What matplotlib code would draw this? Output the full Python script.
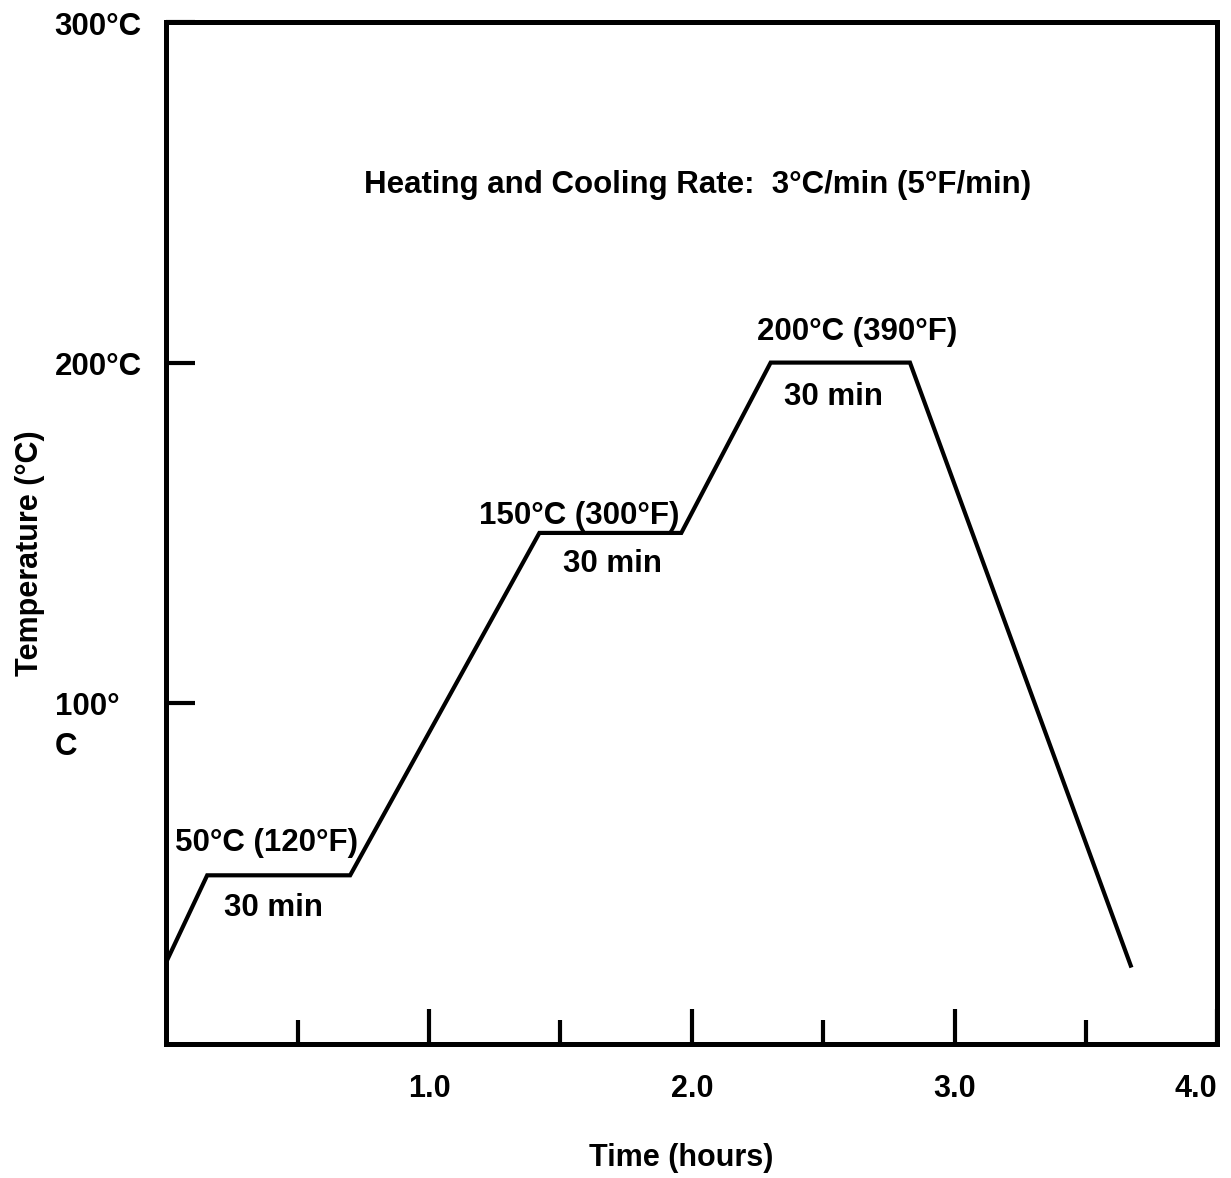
import matplotlib
matplotlib.use('Agg')
import matplotlib.pyplot as plt
from matplotlib.transforms import blended_transform_factory, offset_copy

plt.rcParams['font.family'] = ['Liberation Sans', 'DejaVu Sans']
plt.rcParams['font.weight'] = 'bold'

# cure cycle: time (hours) vs temperature (°C)
time_h = [0.0, 0.156, 0.70, 1.42, 1.96, 2.30, 2.83, 3.67]
temp_c = [24, 49.5, 49.5, 150, 150, 200, 200, 23]

x_major = [1.0, 2.0, 3.0, 4.0]
x_labels = ['1.0', '2.0', '3.0', '4.0']
x_minor = [0.5, 1.5, 2.5, 3.5]
y_ticks = [100, 200, 300]
y_labels = ['100°\nC', '200°C', '300°C']

hold_labels = ['50°C (120°F)', '150°C (300°F)', '200°C (390°F)']
hold_label_xy = [(0.38, 59), (1.57, 155), (2.63, 209)]
hold_time_xy = [(0.41, 40), (1.70, 141), (2.54, 190)]

fig = plt.figure(figsize=(12.31, 11.78), dpi=100)
ax = fig.add_axes([0.135, 0.1138, 0.854, 0.8676])

ax.plot(time_h, temp_c, color='black', lw=3, solid_joinstyle='miter')
ax.set_xlim(0, 4.0)
ax.set_ylim(0, 300)

for s in ax.spines.values():
    s.set_linewidth(3.6)

ax.set_xticks(x_major)
ax.set_xticklabels(x_labels, fontsize=22, fontweight='bold')
ax.get_xticklabels()[-1].set_horizontalalignment('right')
ax.set_xticks(x_minor, minor=True)
ax.tick_params(axis='x', which='major', direction='in', length=25, width=3, pad=22)
ax.tick_params(axis='x', which='minor', direction='in', length=17, width=3)

ax.set_yticks(y_ticks)
ax.set_yticklabels([])
ax.tick_params(axis='y', which='major', direction='in', length=21, width=3)

trans = blended_transform_factory(ax.transAxes, ax.transData)
for v, lab in zip(y_ticks, y_labels):
    # two-line label: keep the first line level with its tick
    dy = -11 if '\n' in lab else -1
    t = offset_copy(trans, fig=fig, x=0, y=dy, units='points')
    ax.text(-0.106, v, lab, transform=t, ha='left', va='center_baseline',
            fontsize=22.5, fontweight='bold', multialignment='left',
            linespacing=1.45)

ax.set_xlabel('Time (hours)', fontsize=22, fontweight='bold')
ax.xaxis.set_label_coords(0.49, -0.097)
ax.set_ylabel('Temperature (°C)', fontsize=22, fontweight='bold')
ax.yaxis.set_label_coords(-0.115, 0.48)

for lab, (x, y) in zip(hold_labels, hold_label_xy):
    ax.text(x, y, lab, ha='center', va='center', fontsize=22.5, fontweight='bold')
for x, y in hold_time_xy:
    ax.text(x, y, '30 min', ha='center', va='center', fontsize=22.5, fontweight='bold')

ax.text(2.02, 252, 'Heating and Cooling Rate:  3°C/min (5°F/min)',
        ha='center', va='center', fontsize=22.5, fontweight='bold')

fig.savefig('out.png', dpi=100)
